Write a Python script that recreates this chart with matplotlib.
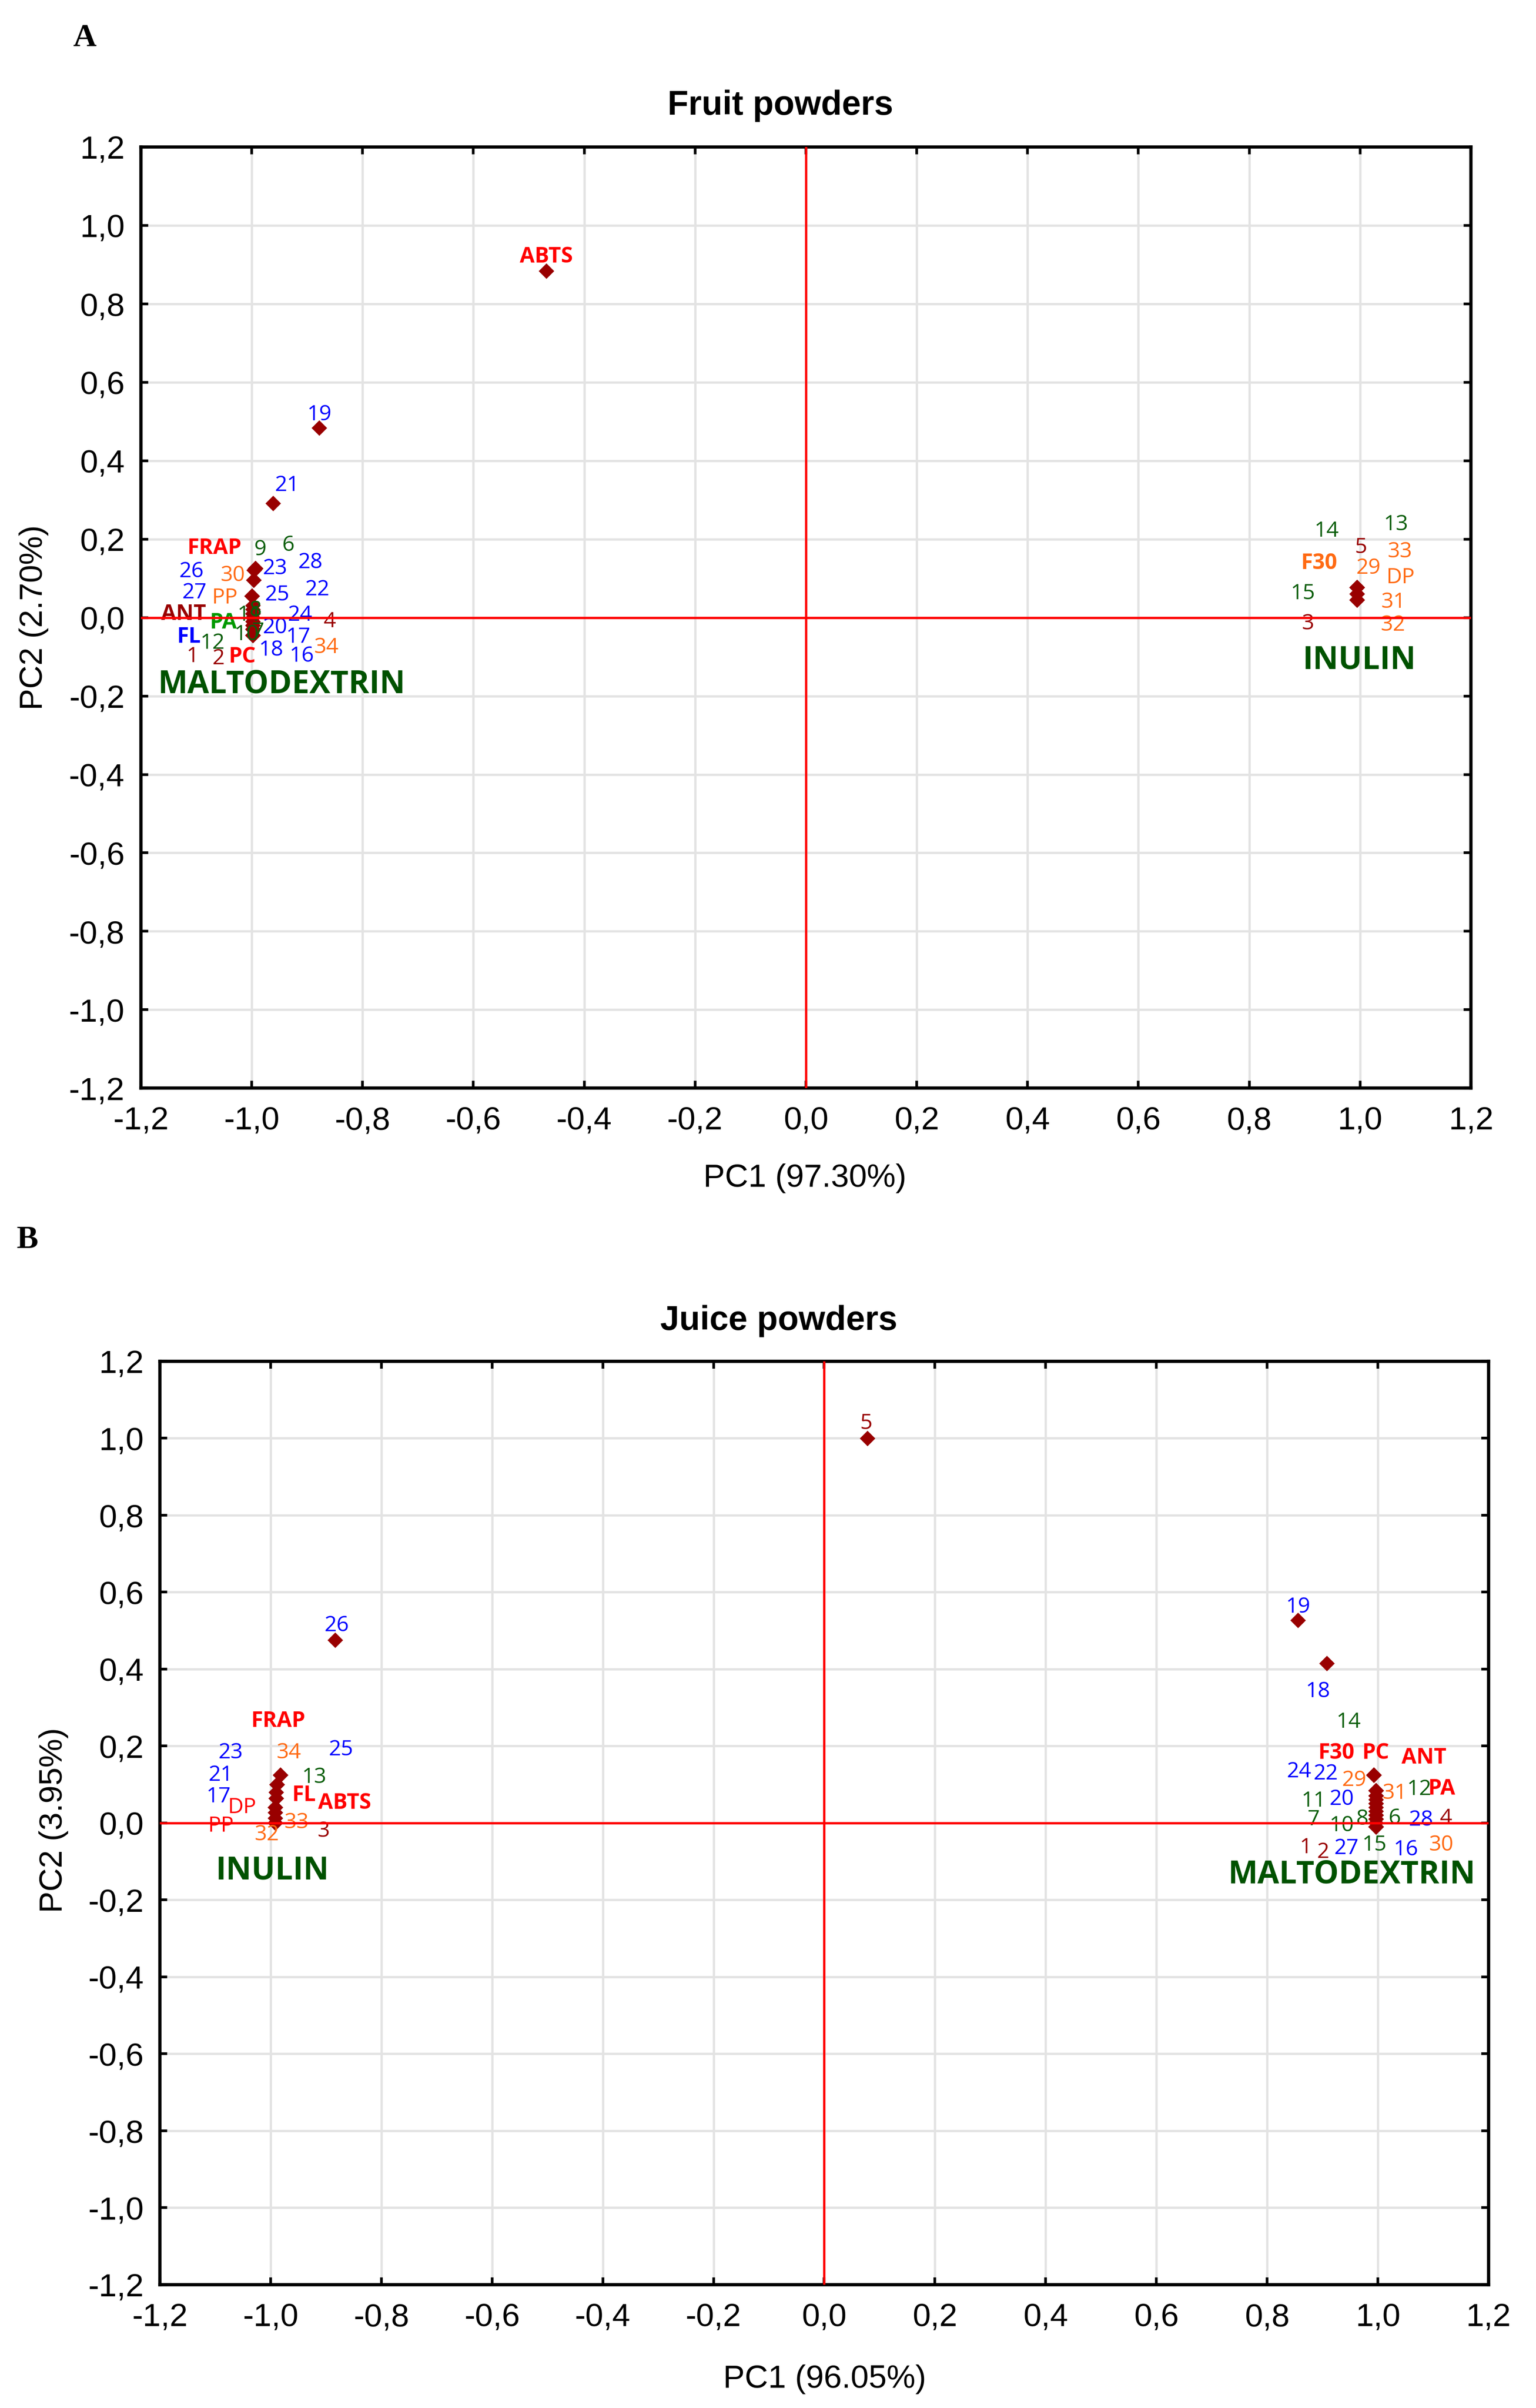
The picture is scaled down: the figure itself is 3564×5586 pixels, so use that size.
import numpy as np
import matplotlib.pyplot as plt

# ---- panel A: fruit powders (point = PC1/PC2 score, label = where its text sits)
a_names = ["ABTS", "19", "21", "FRAP", "9", "6", "23", "28", "26", "30", "27", "PP", "25", "22",
           "ANT", "PA", "11", "8", "24", "4", "20", "10", "7", "FL", "12", "17", "34", "1", "2",
           "PC", "18", "16", "14", "13", "5", "33", "F30", "29", "DP", "15", "31", "3", "32"]
a_pc1 = [-0.468, -0.878, -0.961, -0.993, -0.993, -0.993, -0.995, -0.995, -0.996, -0.996, -0.999,
         -0.999, -0.999, -0.998, -0.998, -0.998, -0.998, -0.998, -0.998, -0.998, -0.998, -0.998,
         -0.998, -0.998, -0.998, -0.998, -0.998, -0.998, -0.998, -0.998, -0.998, -0.998,
         0.995, 0.995, 0.995, 0.995, 0.995, 0.995, 0.995, 0.995, 0.995, 0.995, 0.995]
a_pc2 = [0.883, 0.483, 0.291, 0.125, 0.125, 0.125, 0.120, 0.120, 0.095, 0.095, 0.055, 0.055, 0.055,
         0.030, 0.010, 0.000, 0.010, 0.020, 0.010, 0.000, -0.010, -0.030, -0.030, -0.020, -0.030,
         -0.020, -0.045, -0.045, -0.045, -0.045, -0.045, -0.045,
         0.076, 0.076, 0.076, 0.076, 0.076, 0.076, 0.060, 0.060, 0.045, 0.045, 0.045]
a_lab_x = [-0.468, -0.878, -0.936, -1.067, -0.985, -0.934, -0.958, -0.894, -1.109, -1.034, -1.103,
           -1.049, -0.954, -0.882, -1.123, -1.051, -1.004, -0.993, -0.913, -0.859, -0.958, -1.009,
           -0.988, -1.113, -1.071, -0.916, -0.865, -1.107, -1.060, -1.017, -0.965, -0.910,
           0.940, 1.065, 1.002, 1.072, 0.926, 1.015, 1.073, 0.897, 1.060, 0.906, 1.060]
a_lab_y = [0.921, 0.518, 0.338, 0.178, 0.174, 0.185, 0.126, 0.141, 0.118, 0.108, 0.064, 0.051, 0.059,
           0.072, 0.009, -0.013, 0.007, 0.019, 0.007, -0.010, -0.025, -0.042, -0.036, -0.049, -0.064,
           -0.049, -0.075, -0.099, -0.104, -0.099, -0.082, -0.097,
           0.221, 0.238, 0.180, 0.169, 0.139, 0.127, 0.103, 0.062, 0.040, -0.015, -0.018]
a_groups = ["MALTODEXTRIN", "INULIN"]
a_group_x = [-0.946, 0.999]
a_group_y = [-0.170, -0.109]

# ---- panel B: juice powders
b_names = ["5", "26", "19", "18", "FRAP", "34", "23", "25", "21", "13", "17", "FL", "ABTS", "DP",
           "33", "PP", "32", "3", "14", "F30", "PC", "ANT", "24", "22", "29", "31", "12", "PA",
           "11", "20", "9", "8", "6", "7", "10", "28", "4", "1", "2", "27", "15", "16", "30"]
b_pc1 = [0.078, -0.883, 0.856, 0.908, -0.982, -0.982, -0.988, -0.988, -0.988, -0.990, -0.990,
         -0.990, -0.991, -0.991, -0.991, -0.991, -0.991, -0.991,
         0.993, 0.993, 0.993, 0.993, 0.997, 0.997, 0.997, 0.997, 0.997, 0.997, 0.997, 0.997,
         0.997, 0.997, 0.997, 0.997, 0.997, 0.997, 0.997, 0.997, 0.997, 0.997, 0.997, 0.997, 0.997]
b_pc2 = [0.999, 0.475, 0.527, 0.415, 0.124, 0.124, 0.100, 0.100, 0.100, 0.080, 0.064, 0.064, 0.040,
         0.040, 0.027, 0.012, 0.000, 0.000,
         0.124, 0.124, 0.124, 0.124, 0.084, 0.084, 0.084, 0.070, 0.070, 0.060, 0.050, 0.050,
         0.040, 0.030, 0.020, 0.020, 0.010, 0.010, 0.000, -0.010, -0.010, -0.010, -0.010,
         -0.010, -0.010]
b_lab_x = [0.076, -0.881, 0.856, 0.892, -0.986, -0.967, -1.072, -0.873, -1.090, -0.921, -1.094,
           -0.940, -0.866, -1.052, -0.953, -1.090, -1.007, -0.904,
           0.947, 0.925, 0.996, 1.083, 0.858, 0.906, 0.957, 1.031, 1.075, 1.115, 0.884, 0.935,
           0.997, 0.972, 1.030, 0.884, 0.935, 1.078, 1.123, 0.870, 0.901, 0.943, 0.994, 1.051, 1.115]
b_lab_y = [1.039, 0.514, 0.562, 0.343, 0.265, 0.183, 0.183, 0.191, 0.125, 0.120, 0.069, 0.073, 0.052,
           0.041, 0.002, -0.007, -0.030, -0.021,
           0.263, 0.183, 0.183, 0.170, 0.134, 0.129, 0.112, 0.078, 0.088, 0.089, 0.058, 0.062,
           0.037, 0.011, 0.013, 0.010, -0.006, 0.009, 0.013, -0.063, -0.075, -0.065, -0.056,
           -0.069, -0.056]
b_groups = ["INULIN", "MALTODEXTRIN"]
b_group_x = [-0.997, 0.953]
b_group_y = [-0.124, -0.134]

ticks = [-1.2, -1.0, -0.8, -0.6, -0.4, -0.2, 0.0, 0.2, 0.4, 0.6, 0.8, 1.0, 1.2]

DARKRED = "#990000"
GREEN = "#0b5e0b"
BLUE = "#0000ff"
ORANGE = "#ff6a13"
NARROW = ["Liberation Sans Narrow", "Liberation Sans", "DejaVu Sans"]
LABELF = ["Open Sans", "DejaVu Sans"]

# colours / weights of the variable labels differ between the panels
a_vars = {"ABTS": ("#ff0000", "bold"), "FRAP": ("#ff0000", "bold"), "PC": ("#ff0000", "bold"),
          "ANT": (DARKRED, "bold"), "PA": ("#009900", "bold"), "FL": (BLUE, "bold"),
          "F30": (ORANGE, "bold"), "PP": (ORANGE, "normal"), "DP": (ORANGE, "normal")}
b_vars = {"ABTS": ("#ff0000", "bold"), "FRAP": ("#ff0000", "bold"), "PC": ("#ff0000", "bold"),
          "ANT": ("#ff0000", "bold"), "PA": ("#ff0000", "bold"), "FL": ("#ff0000", "bold"),
          "F30": ("#ff0000", "bold"), "PP": ("#ff0000", "normal"), "DP": ("#ff0000", "normal")}


def label_style(name, variables):
    if name in variables:
        return variables[name]
    n = int(name)
    if n <= 5:
        return DARKRED, "normal"
    if n <= 15:
        return GREEN, "normal"
    if n <= 28:
        return BLUE, "normal"
    return ORANGE, "normal"


def fmt(v):
    return ("%.1f" % v).replace(".", ",").replace("-0,0", "0,0")


def draw_panel(ax, names, pc1, pc2, lab_x, lab_y, groups, gx, gy, variables, hidden=()):
    ax.set_xlim(-1.2, 1.2)
    ax.set_ylim(-1.2, 1.2)
    ax.set_xticks(ticks)
    ax.set_yticks(ticks)
    ax.set_xticklabels([fmt(t) for t in ticks], family=NARROW, fontsize=18)
    ax.set_yticklabels([fmt(t) for t in ticks], family=NARROW, fontsize=18)
    ax.tick_params(direction="in", length=4, width=1.5, top=True, right=True, pad=10)
    ax.tick_params(axis="y", pad=9)
    for sp in ax.spines.values():
        sp.set_linewidth(1.8)
    ax.grid(True, color="#e3e3e3", linewidth=1.3, zorder=0)
    ax.set_axisbelow(True)

    ax.axhline(0, color="#ff0000", linewidth=1.3, zorder=4)
    ax.axvline(0, color="#ff0000", linewidth=1.3, zorder=4)
    ax.plot(pc1, pc2, "D", color=DARKRED, markersize=6, markeredgewidth=0, zorder=2.5)

    for name, x, y in zip(names, lab_x, lab_y):
        color, weight = label_style(name, variables)
        ax.text(x, y, name, color=color, fontweight=weight, family=LABELF, fontsize=12,
                ha="center", va="center", zorder=1.5 if name in hidden else 3)
    for g, x, y in zip(groups, gx, gy):
        ax.text(x, y, g, color="#005200", fontweight="bold", family=LABELF, fontsize=17.5,
                ha="center", va="center", zorder=3)


fig = plt.figure(figsize=(11.88, 18.6233), dpi=300)

axA = fig.add_axes([0.0917, 0.548, 0.9576 - 0.0917, 0.9388 - 0.548])
draw_panel(axA, a_names, a_pc1, a_pc2, a_lab_x, a_lab_y, a_groups, a_group_x, a_group_y, a_vars)

axB = fig.add_axes([0.1041, 0.0512, 0.9691 - 0.1041, 0.4346 - 0.0512])
draw_panel(axB, b_names, b_pc1, b_pc2, b_lab_x, b_lab_y, b_groups, b_group_x, b_group_y, b_vars,
           hidden=("9",))

fig.text(0.055, 0.984, "A", family=["Liberation Serif", "DejaVu Serif"], fontweight="bold",
         fontsize=18, ha="center", va="center")
fig.text(0.018, 0.485, "B", family=["Liberation Serif", "DejaVu Serif"], fontweight="bold",
         fontsize=18, ha="center", va="center")

fig.text(0.508, 0.956, "Fruit powders", family=NARROW, fontweight="bold", fontsize=19,
         ha="center", va="center")
fig.text(0.507, 0.4515, "Juice powders", family=NARROW, fontweight="bold", fontsize=19,
         ha="center", va="center")

fig.text(0.524, 0.5108, "PC1 (97.30%)", family=["Liberation Sans", "DejaVu Sans"], fontsize=18,
         ha="center", va="center")
fig.text(0.022, 0.7436, "PC2 (2.70%)", family=["Liberation Sans", "DejaVu Sans"], fontsize=18,
         ha="center", va="center", rotation=90)
fig.text(0.537, 0.0121, "PC1 (96.05%)", family=["Liberation Sans", "DejaVu Sans"], fontsize=18,
         ha="center", va="center")
fig.text(0.035, 0.2443, "PC2 (3.95%)", family=["Liberation Sans", "DejaVu Sans"], fontsize=18,
         ha="center", va="center", rotation=90)

fig.savefig("out.png", dpi=300, facecolor="white")
